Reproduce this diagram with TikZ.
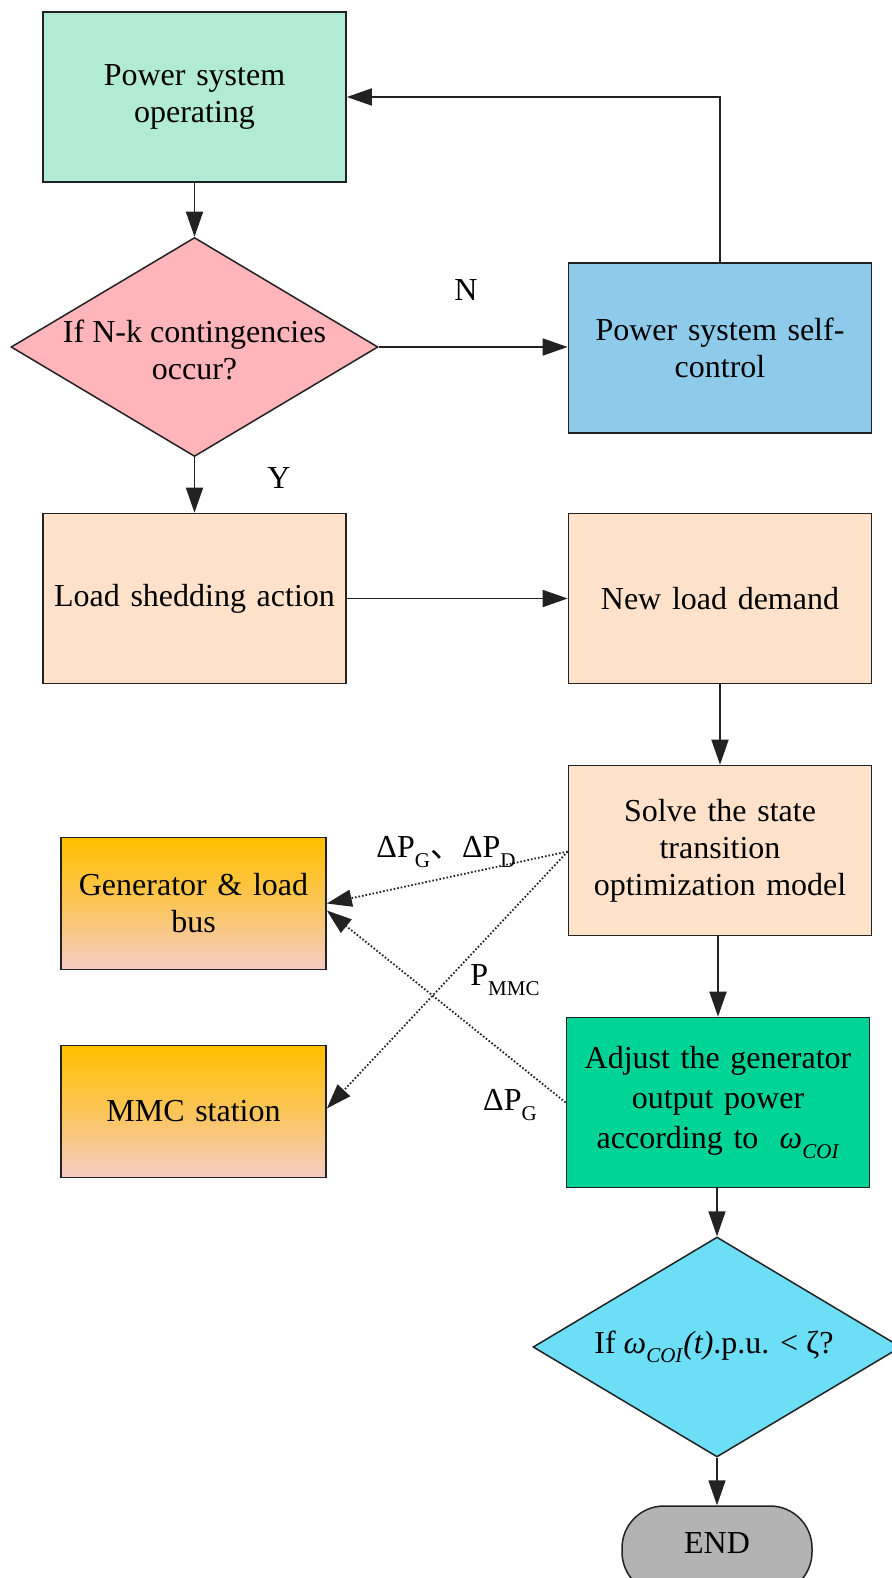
\documentclass[tikz,border=0pt]{standalone}
\usepackage{fontspec}
\setmainfont{Liberation Serif}
\newfontfamily\cjk{Noto Sans CJK SC}
\usetikzlibrary{shapes.geometric,arrows.meta}
\newcommand\lowsub[1]{\raisebox{-0.3em}{\fontsize{21}{21}\selectfont #1}}
\definecolor{mint}{HTML}{B1EBD6}
\definecolor{pinkd}{HTML}{FFB5B9}
\definecolor{blueb}{HTML}{8ECBEA}
\definecolor{peach}{HTML}{FFE2C9}
\definecolor{gold}{HTML}{FFC000}
\definecolor{pinkb}{HTML}{F6CBC6}
\definecolor{greenb}{HTML}{00D396}
\definecolor{cyand}{HTML}{6CDFF6}
\definecolor{grayend}{HTML}{B3B3B3}
\definecolor{edge}{HTML}{222222}
\begin{document}
\begin{tikzpicture}[x=1pt,y=-1pt,
  box/.style={draw=edge, line width=1.7pt, minimum width=303pt, minimum height=170pt,
    align=center, inner sep=0pt, text width=295pt, font=\fontsize{32}{37}\selectfont},
  sidebox/.style={draw=edge, line width=1.7pt, minimum width=265pt, minimum height=132pt,
    align=center, inner sep=0pt, text width=260pt, font=\fontsize{32}{37}\selectfont,
    top color=gold, bottom color=pinkb, middle color=gold!55!pinkb},
  dia/.style={draw=edge, line width=1.5pt, diamond, inner sep=0pt},
  txt/.style={align=center, inner sep=0pt, font=\fontsize{32}{37}\selectfont},
  arr/.style={draw=edge, line width=1.7pt, -{Triangle[length=25pt,width=17pt]}},
  dotarr/.style={draw=edge, line width=1.8pt, dash pattern=on 1.6pt off 2pt,
    -{Triangle[length=25pt,width=17pt]}},
]
\useasboundingbox (0,0) rectangle (891,1578);
\fill[white] (0,0) rectangle (891,1578);

\node[box, fill=mint] (op) at (194.5,97) {Power system\\operating};
\node[dia, fill=pinkd, minimum width=367pt, minimum height=219pt] (d1) at (194.5,347) {};
\node[txt] (d1t) at (194.5,350) {If N-k contingencies\\occur?};
\node[box, fill=blueb] (sc) at (720,348) {Power system self-\\control};
\node[box, fill=peach] (ls) at (194.5,598.5) {Load shedding action};
\node[box, fill=peach] (nl) at (720,598.5) {New load demand};
\node[box, fill=peach] (sv) at (720,850.5) {Solve the state\\transition\\optimization model};
\node[sidebox] (gen) at (193.5,903.5) {Generator \& load\\bus};
\node[sidebox] (mmc) at (193.5,1111.5) {MMC station};
\node[box, fill=greenb, font=\fontsize{32}{40}\selectfont] (adj) at (718,1102.5)
  {Adjust the generator\\output power\\according to~~\textit{ω}\lowsub{\textit{COI}}};
\node[dia, fill=cyand, minimum width=368pt, minimum height=220pt] (d2) at (717,1347) {};
\node[txt] (d2t) at (714,1347) {If \textit{ω}\lowsub{\textit{COI}}\textit{(t)}.p.u. < ζ?};
\node[draw=edge, line width=1.5pt, fill=grayend, rounded corners=42pt,
  minimum width=190pt, minimum height=88pt, inner sep=0pt] (end) at (717,1550) {};
\node[txt] (endt) at (717,1543) {END};

\node[txt] (lN) at (466,290) {N};
\node[txt] (lY) at (279,478) {Y};
\node[txt] (lpg) at (446,852) {ΔP\lowsub{G}{\cjk 、}ΔP\lowsub{D}};
\node[txt] (lpm) at (505,980) {P\lowsub{MMC}};
\node[txt] (lpg2) at (510,1105) {ΔP\lowsub{G}};

\draw[arr] (op.south) -- (d1.north);
\draw[arr] (d1.east) -- (sc.west |- d1.east);
\draw[arr] (sc.north) |- (op.east);
\draw[arr] (d1.south) -- (ls.north);
\draw[arr] (ls.east) -- (nl.west);
\draw[arr] (nl.south) -- (sv.north);
\draw[arr] (sv.south -| adj.north) -- (adj.north);
\draw[arr] (adj.south -| d2.north) -- (d2.north);
\draw[arr] (d2.south) -- (end.north);

\draw[dotarr] ([yshift=-1pt]sv.west) -- (gen.east);
\draw[dotarr] ([yshift=-1pt]sv.west) -- ([yshift=3pt]mmc.east);
\draw[dotarr] (adj.west) -- ([yshift=-7pt]gen.east);
\end{tikzpicture}
\end{document}
